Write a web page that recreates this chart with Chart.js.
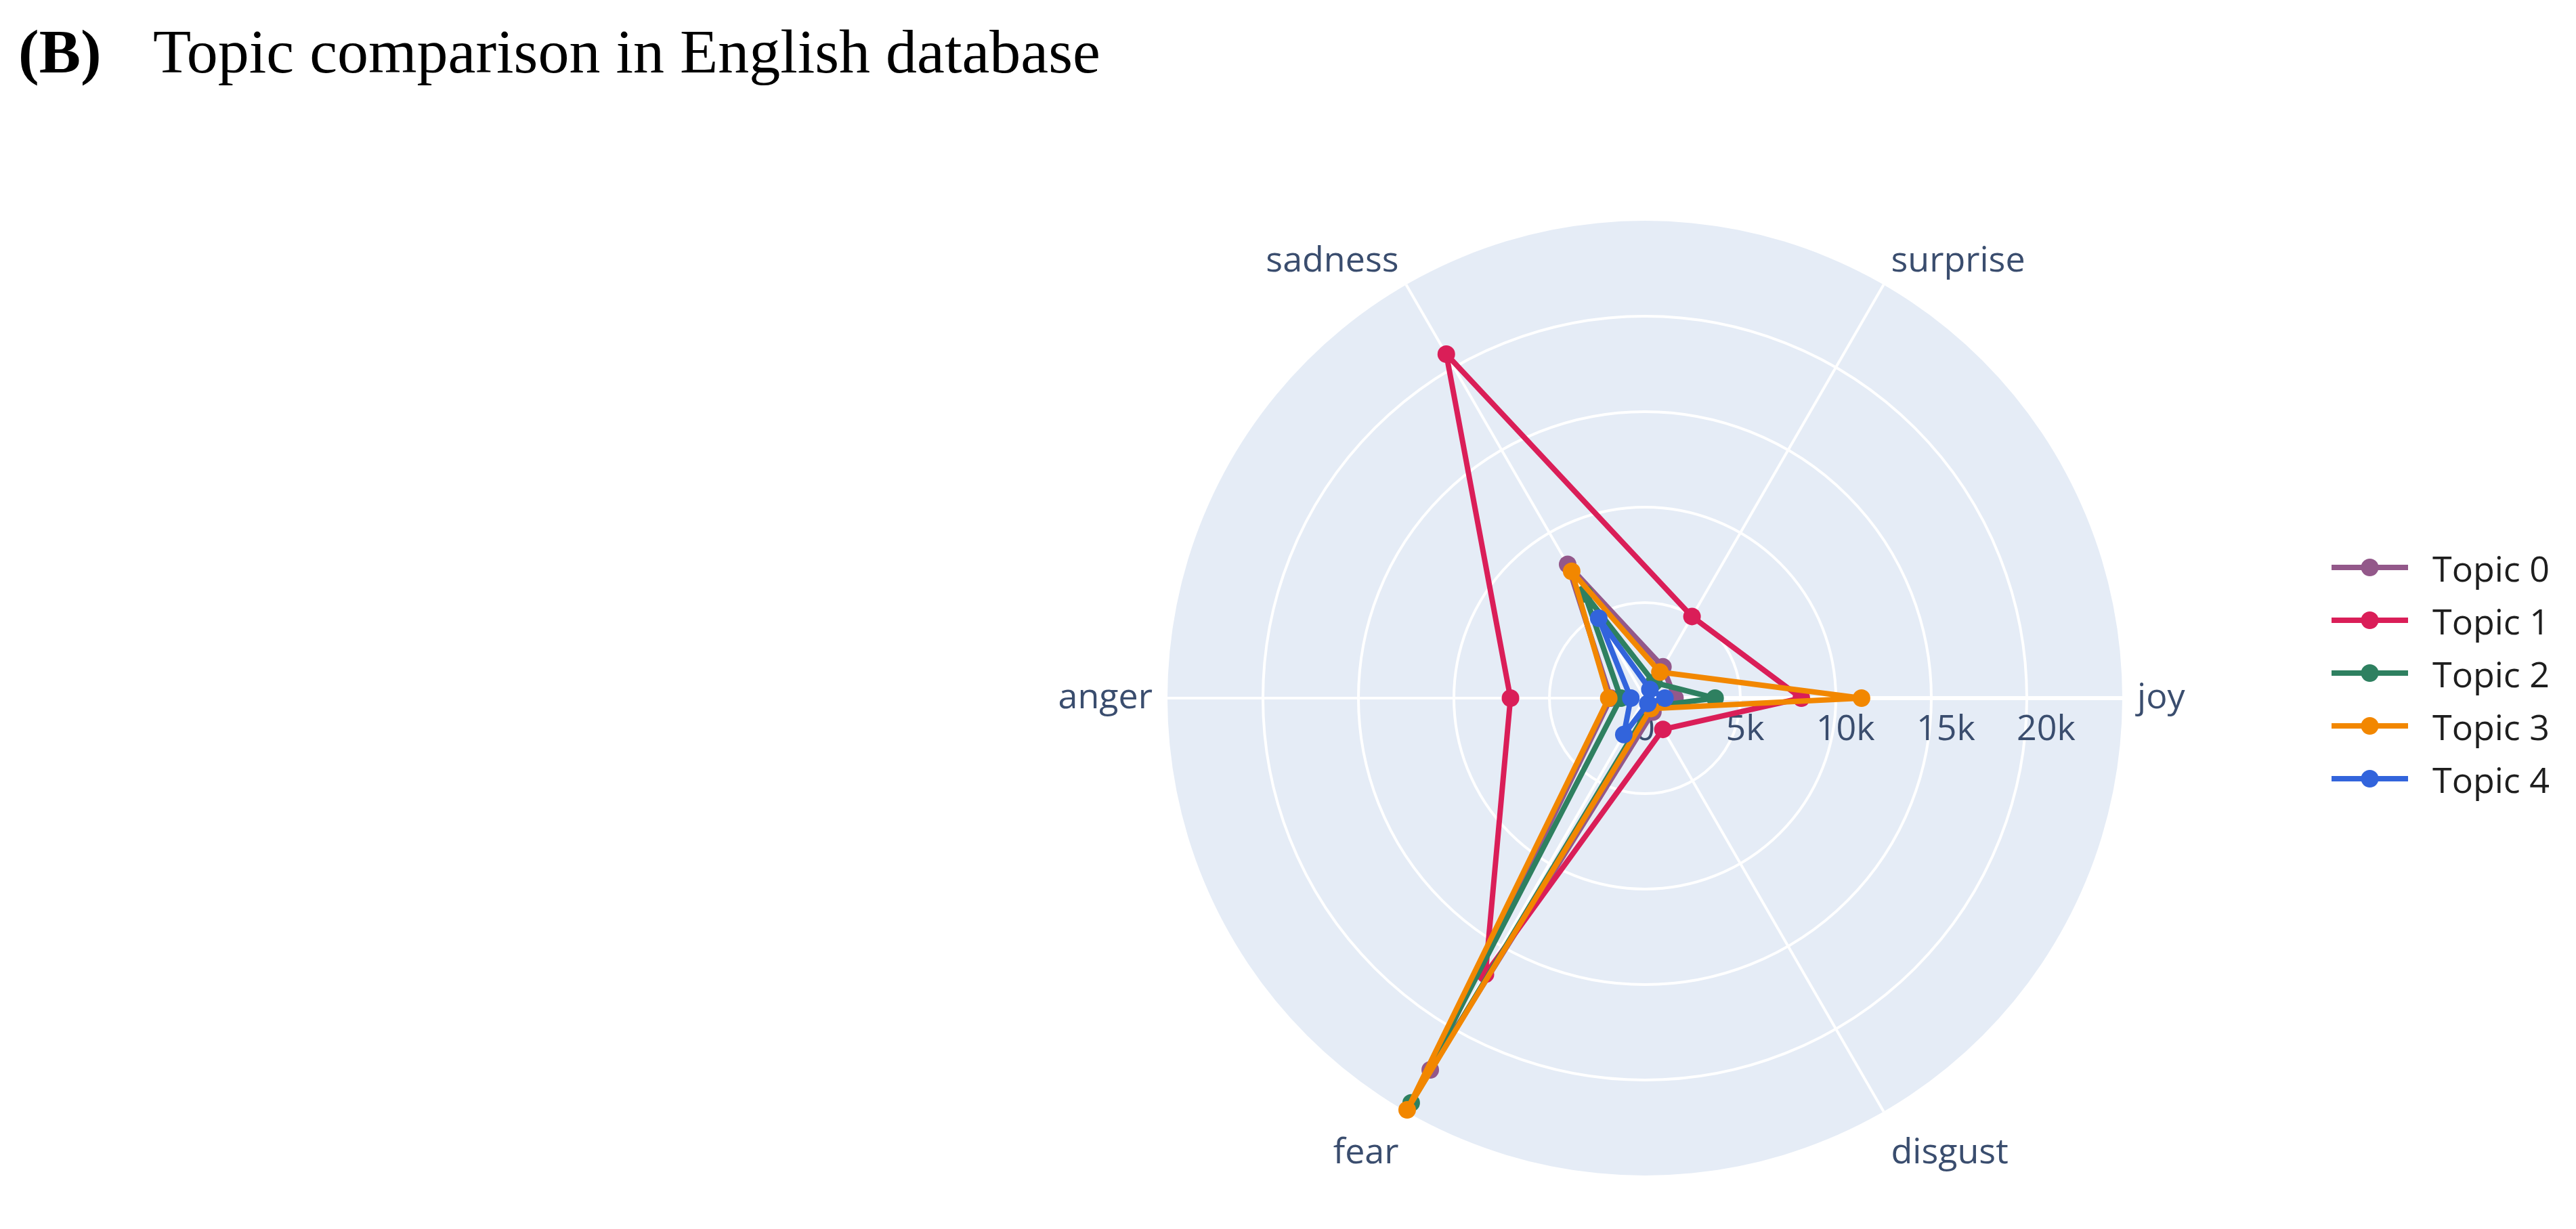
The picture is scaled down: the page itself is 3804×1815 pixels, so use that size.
<!DOCTYPE html>
<html>
<head>
<meta charset="utf-8">
<title>Topic comparison in English database</title>
<script src="https://cdn.jsdelivr.net/npm/chart.js@4.4.1/dist/chart.umd.min.js"></script>
<style>
  html, body { margin: 0; padding: 0; background: #fff; }
  body { width: 3804px; height: 1815px; position: relative; overflow: hidden; }
  #chart { position: absolute; left: 0; top: 0; }
  .title {
    position: absolute;
    top: 30px;
    font-family: "Liberation Serif", "Times New Roman", serif;
    font-size: 92px;
    line-height: 1;
    color: #000;
    white-space: nowrap;
  }
  #legend {
    position: absolute;
    left: 3443px;
    top: 799px;
    font-family: "Open Sans", sans-serif;
    font-size: 52px;
    color: #1e1e1e;
  }
  .legend-item { display: flex; align-items: center; height: 78px; white-space: nowrap; }
  .legend-item svg { margin-right: 36px; }
</style>
</head>
<body>
<div class="title" style="left:27px;font-weight:bold">(B)</div>
<div class="title" style="left:226px">Topic comparison in English database</div>
<canvas id="chart" width="3804" height="1815"></canvas>
<div id="legend"></div>
<script>
// categories in Chart.js order (clockwise, starting at the right)
const emotions = ['joy', 'disgust', 'fear', 'anger', 'sadness', 'surprise'];

// counts per emotion, same order as emotions
const topic0 = [1500, 800, 21400, 1700, 7700, 1800];
const topic1 = [7800, 1800, 15900, 6700, 19800, 4700];
const topic2 = [3500, 500, 23300, 1200, 6000, 900];
const topic3 = [10800, 600, 23700, 1800, 7300, 1500];
const topic4 = [1000, 300, 2100, 700, 4600, 500];

const topicNames = ['Topic 0', 'Topic 1', 'Topic 2', 'Topic 3', 'Topic 4'];
const topicColors = ['#93588a', '#da1e58', '#2e8060', '#f28700', '#3264dc'];

const radialTicks = [0, 5000, 10000, 15000, 20000];
const radialTickLabels = ['0', '5k', '10k', '15k', '20k'];
const radialMax = 23800;

const axisFont = '52px "Open Sans", sans-serif';
const axisColor = '#3a4d6e';

// polar background, radial tick labels and category labels
const polarDecor = {
    id: 'polarDecor',
    beforeDraw(chart) {
        const r = chart.scales.r;
        const ctx = chart.ctx;
        ctx.save();
        ctx.fillStyle = '#e5ecf6';
        ctx.beginPath();
        ctx.arc(r.xCenter, r.yCenter, r.drawingArea, 0, Math.PI * 2);
        ctx.fill();
        ctx.restore();
    },
    beforeDatasetsDraw(chart) {
        const r = chart.scales.r;
        const ctx = chart.ctx;
        ctx.save();
        ctx.font = axisFont;
        ctx.fillStyle = axisColor;

        // tick labels along the joy axis
        ctx.textAlign = 'center';
        ctx.textBaseline = 'alphabetic';
        radialTicks.forEach((v, i) => {
            const d = r.getDistanceFromCenterForValue(v);
            ctx.fillText(radialTickLabels[i], r.xCenter + d, r.yCenter + 62);
        });

        // category labels
        const gap = 22;
        emotions.forEach((name, i) => {
            const p = r.getPointPosition(i, r.drawingArea + gap);
            const ang = r.getIndexAngle(i) - Math.PI / 2;
            const c = Math.cos(ang), s = Math.sin(ang);
            ctx.textAlign = c > 0.1 ? 'left' : (c < -0.1 ? 'right' : 'center');
            let y = p.y;
            if (s < -0.1) {
                ctx.textBaseline = 'alphabetic';
            } else if (s > 0.1) {
                ctx.textBaseline = 'alphabetic';
                y = p.y + 57;
            } else {
                ctx.textBaseline = 'middle';
            }
            ctx.fillText(name, p.x, y);
        });
        ctx.restore();
    }
};

const seriesValues = [topic0, topic1, topic2, topic3, topic4];

const datasets = seriesValues.map((vals, i) => ({
    label: topicNames[i],
    data: vals,
    borderColor: topicColors[i],
    backgroundColor: topicColors[i],
    pointBackgroundColor: topicColors[i],
    pointBorderWidth: 0,
    pointRadius: 13,
    borderWidth: 8,
    borderJoinStyle: 'round',
    fill: false,
    order: topicNames.length - 1 - i
}));

new Chart(document.getElementById('chart'), {
    type: 'radar',
    data: { labels: emotions, datasets: datasets },
    plugins: [polarDecor],
    options: {
        responsive: false,
        animation: false,
        devicePixelRatio: 1,
        layout: { padding: { left: 1724, right: 670, top: 326, bottom: 79 } },
        plugins: {
            legend: { display: false },
            tooltip: { enabled: false }
        },
        scales: {
            r: {
                min: 0,
                max: radialMax,
                startAngle: 90,
                ticks: { display: false, stepSize: 5000 },
                pointLabels: { display: false },
                grid: {
                    circular: true,
                    lineWidth: 4,
                    color: ctx => (ctx.tick && ctx.tick.value >= radialMax) ? 'rgba(0,0,0,0)' : '#ffffff'
                },
                angleLines: {
                    color: '#ffffff',
                    lineWidth: ctx => ctx.index === 0 ? 6 : 4
                }
            }
        }
    }
});

// legend
const legend = document.getElementById('legend');
topicNames.forEach((name, i) => {
    const row = document.createElement('div');
    row.className = 'legend-item';
    row.innerHTML = `
        <svg width="113" height="30" viewBox="0 0 113 30">
            <line x1="0" y1="15" x2="113" y2="15" stroke="${topicColors[i]}" stroke-width="8"/>
            <circle cx="56.5" cy="15" r="13" fill="${topicColors[i]}"/>
        </svg>
        <span>${name}</span>`;
    legend.appendChild(row);
});
</script>
</body>
</html>
